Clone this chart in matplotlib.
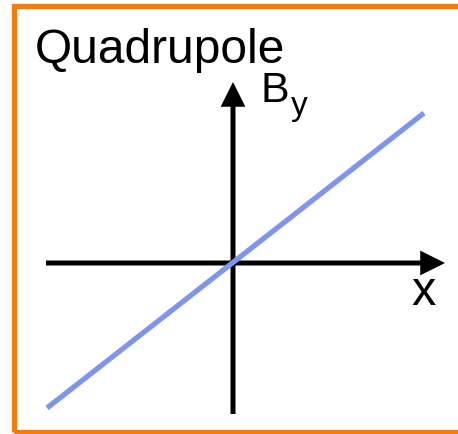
import matplotlib.pyplot as plt
from matplotlib.patches import Rectangle

plt.rcParams['font.family'] = ['Liberation Sans', 'DejaVu Sans']

W, H = 458, 434

# field line B_y vs x (arbitrary units, origin at crossing of the axes)
x_line = [-1.86, 1.91]
by_line = [-1.45, 1.50]

# axis extents
x_axis = (-1.87, 2.12)
y_axis = (-1.51, 1.81)

fig = plt.figure(figsize=(W / 100, H / 100), dpi=100)
ax = fig.add_axes([0, 0, 1, 1])
ax.set_xlim(-2.33, 2.25)
ax.set_ylim(-1.71, 2.63)
ax.axis('off')

arrow = dict(arrowstyle='-|>', lw=3.6, color='black', mutation_scale=30,
             shrinkA=0, shrinkB=0, joinstyle='miter', capstyle='butt')
ax.annotate('', xy=(x_axis[1], 0), xytext=(x_axis[0], 0), arrowprops=arrow)
ax.annotate('', xy=(0, y_axis[1]), xytext=(0, y_axis[0]), arrowprops=arrow)

ax.plot(x_line, by_line, color='#7F95EC', lw=3.8, solid_capstyle='butt', zorder=3)

# orange frame (open on the right)
fig.patches.append(Rectangle((13.5 / W, 2.5 / H), 1.2, (H - 8) / H,
                             transform=fig.transFigure, fill=False,
                             edgecolor='#EF7D0F', lw=3.8))


def px(x, y):
    return x / W, 1 - y / H


fig.text(*px(35, 63), 'Quadrupole', fontsize=34.5, va='baseline', ha='left')
fig.text(*px(261, 102), 'B', fontsize=31, va='baseline', ha='left')
fig.text(*px(291, 115), 'y', fontsize=24, va='baseline', ha='left')
fig.text(*px(411, 305), 'x', fontsize=35, va='baseline', ha='left')

fig.savefig('out.png', dpi=100)
